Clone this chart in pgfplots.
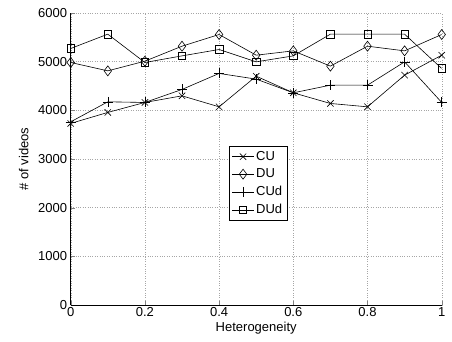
\documentclass[border=0pt]{standalone}
\usepackage{pgfplots}
\pgfplotsset{compat=1.18}
\usepackage{fontspec}
\setmainfont{Liberation Sans}
\begin{document}
\begin{tikzpicture}
\begin{axis}[
  name=ax,
  scale only axis,
  width=371pt, height=292pt,
  xmin=0, xmax=1, ymin=0, ymax=6000,
  axis lines=left,
  axis line style={-, line width=0.8pt},
  tick align=inside,
  xtick={0,0.2,0.4,0.6,0.8,1},
  xticklabels={0,0.2,0.4,0.6,0.8,1},
  ytick={0,1000,2000,3000,4000,5000,6000},
  scaled y ticks=false,
  yticklabel style={/pgf/number format/set thousands separator={}},
  /pgf/number format/assume math mode=true,
  grid=major,
  major grid style={dotted, gray!70},
  tick label style={font=\fontsize{13}{15}\selectfont},
  xticklabel style={yshift=1pt},
  label style={font=\fontsize{13}{15}\selectfont},
  xlabel={Heterogeneity},
  ylabel={\# of videos},
  xlabel style={at={(axis description cs:0.5,0)}, anchor=center, yshift=-23pt},
  ylabel style={at={(axis description cs:-0.1267,0.5)}, anchor=center},
  legend style={at={(axis cs:0.505,2500)}, anchor=center, font=\fontsize{13}{15}\selectfont, draw=black, line width=0.8pt, inner sep=3pt, row sep=3pt},
  legend cell align=left,
  legend image code/.code={\draw[mark repeat=2, mark phase=2] plot coordinates {(0cm,0cm) (0.38cm,0cm) (0.76cm,0cm)};},
  every axis plot/.append style={black, line width=0.6pt},
]
\addplot[mark=x, mark size=4.5pt] coordinates {
(0,3731) (0.1,3957) (0.2,4162) (0.3,4298) (0.4,4072) (0.5,4702) (0.6,4360) (0.7,4141) (0.8,4072) (0.9,4723) (1,5133)};
\addlegendentry{CU}
\addplot[mark=diamond, mark size=5pt, mark options={fill=white}] coordinates {
(0,4983) (0.1,4811) (0.2,5010) (0.3,5318) (0.4,5558) (0.5,5133) (0.6,5222) (0.7,4908) (0.8,5318) (0.9,5222) (1,5558)};
\addlegendentry{DU}
\addplot[mark=+, mark size=5pt] coordinates {
(0,3764) (0.1,4175) (0.2,4162) (0.3,4429) (0.4,4758) (0.5,4641) (0.6,4360) (0.7,4517) (0.8,4517) (0.9,4996) (1,4162)};
\addlegendentry{CUd}
\addplot[mark=square, mark size=3.7pt] coordinates {
(0,5271) (0.1,5565) (0.2,4983) (0.3,5119) (0.4,5250) (0.5,4996) (0.6,5119) (0.7,5565) (0.8,5565) (0.9,5565) (1,4860)};
\addlegendentry{DUd}
\end{axis}
\path (ax.south west) ++(-70.7pt,-37pt) coordinate (bl);
\path (ax.north east) ++(10.3pt,13pt) coordinate (tr);
\useasboundingbox (bl) rectangle (tr);
\end{tikzpicture}
\end{document}
